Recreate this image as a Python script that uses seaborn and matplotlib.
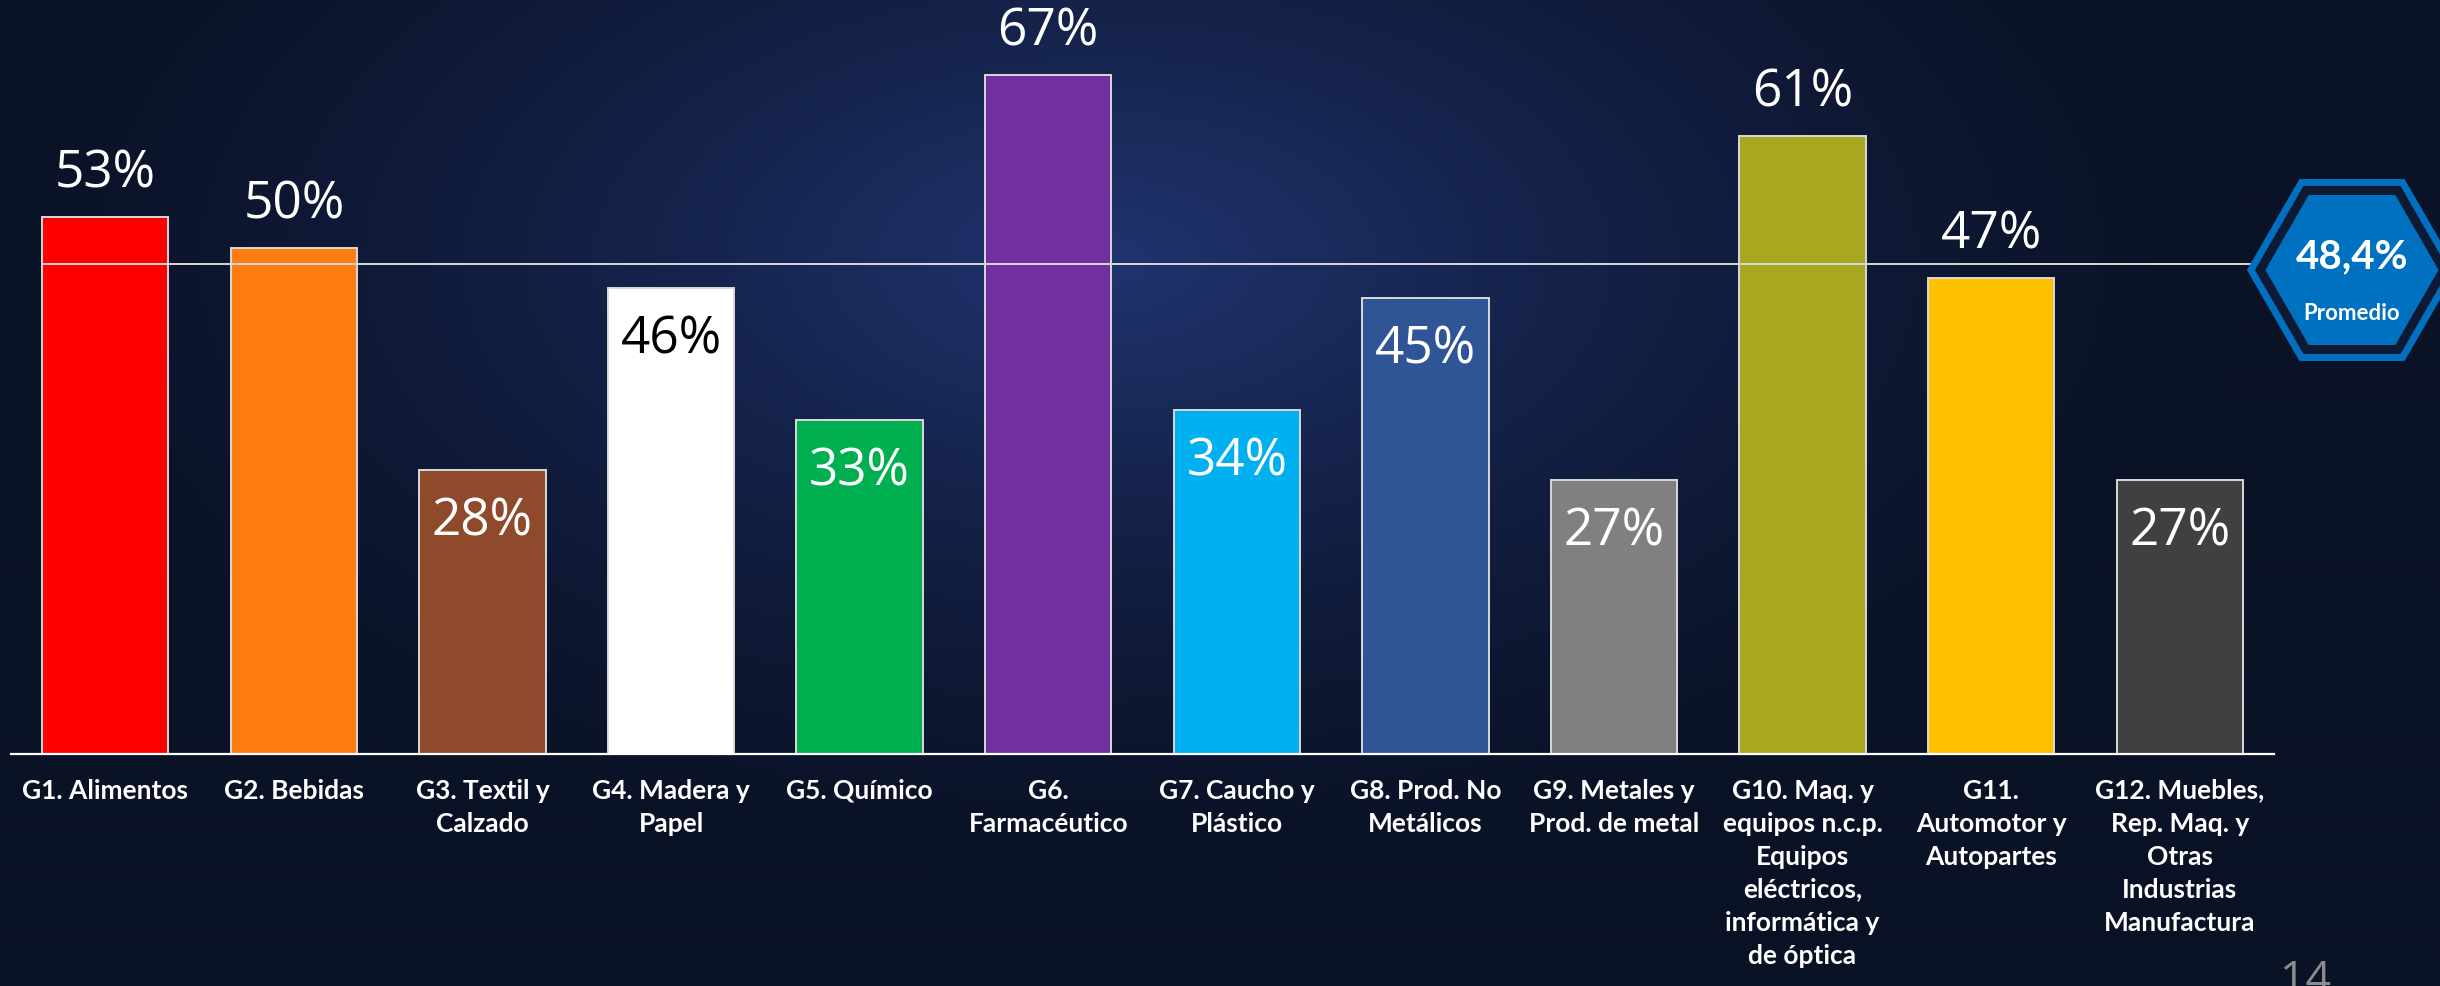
import numpy as np
import matplotlib
matplotlib.use("Agg")
import matplotlib.pyplot as plt
from matplotlib.patches import Polygon
import seaborn as sns
import pandas as pd

# ---------------- data ----------------
categories = [
    "G1. Alimentos",
    "G2. Bebidas",
    "G3. Textil y\nCalzado",
    "G4. Madera y\nPapel",
    "G5. Químico",
    "G6.\nFarmacéutico",
    "G7. Caucho y\nPlástico",
    "G8. Prod. No\nMetálicos",
    "G9. Metales y\nProd. de metal",
    "G10. Maq. y\nequipos n.c.p.\nEquipos\neléctricos,\ninformática y\nde óptica",
    "G11.\nAutomotor y\nAutopartes",
    "G12. Muebles,\nRep. Maq. y\nOtras\nIndustrias\nManufactura",
]
values = [0.53, 0.50, 0.28, 0.46, 0.33, 0.67, 0.34, 0.45, 0.27, 0.61, 0.47, 0.27]
value_labels = ["53%", "50%", "28%", "46%", "33%", "67%", "34%", "45%", "27%", "61%", "47%", "27%"]
promedio = 0.484
promedio_label = "48,4%"
promedio_title = "Promedio"
page_number = "14"

# ---------------- styles ----------------
bar_colors = ["#FF0000", "#FF7C10", "#8F4A2B", "#FFFFFF", "#00B050", "#7030A0",
              "#00B0F0", "#2F5597", "#808080", "#A8A820", "#FFC000", "#404040"]
label_inside = [False, False, True, True, True, False, True, True, True, False, False, True]
label_colors = ["white", "white", "white", "black", "white", "white",
                "white", "white", "white", "white", "white", "white"]

sns.set_theme(style="white")
plt.rcParams["font.family"] = ["Lato", "DejaVu Sans"]

W, H = 2440, 987
fig = plt.figure(figsize=(W / 100, H / 100), dpi=100)

# background gradient
bg = fig.add_axes([0, 0, 1, 1], zorder=0)
gy, gx = np.mgrid[0:H:4, 0:W:4]
d = np.sqrt(((gx - 1100) / 1150.0) ** 2 + ((gy - 260) / 620.0) ** 2)
t = np.clip(1 - d, 0, 1) ** 1.4
dark = np.array([10, 18, 38]) / 255.0
light = np.array([32, 52, 112]) / 255.0
img = dark[None, None, :] + (light - dark)[None, None, :] * t[..., None]
bg.imshow(img, extent=[0, W, H, 0], aspect="auto", interpolation="bilinear")
bg.set_xlim(0, W)
bg.set_ylim(H, 0)
bg.axis("off")

# main axes
ax_left, ax_right = 11, 2274
base_y = 755
px_per_unit = 1013.0
ymax = 0.70
ax = fig.add_axes([ax_left / W, (H - base_y) / H, (ax_right - ax_left) / W,
                   ymax * px_per_unit / H], zorder=1)
ax.patch.set_alpha(0)

df = pd.DataFrame({"cat": categories, "val": values})
sns.barplot(data=df, x="cat", y="val", hue="cat", palette=bar_colors,
            width=0.67, edgecolor="#D9D9D9", linewidth=1.4, legend=False,
            saturation=1, ax=ax)
ax.set_xlim(-0.5, len(categories) - 0.5)
ax.set_ylim(0, ymax)

# average line (from first bar's left edge to the badge), drawn over the bars
x0 = (42 - ax_left) / (ax_right - ax_left)
ax.axhline(promedio, xmin=x0, xmax=1.0, color="#D9D9D9", lw=1.4, zorder=3, clip_on=False)
ax.plot([len(categories) - 0.5, len(categories) - 0.5 + 0.1], [promedio, promedio],
        color="#D9D9D9", lw=1.4, clip_on=False, zorder=3)

# value labels
above_off = 44 / px_per_unit
inside_off = 51 / px_per_unit
for i, (v, lab) in enumerate(zip(values, value_labels)):
    y = v - inside_off if label_inside[i] else v + above_off
    ax.text(i, y, lab, ha="center", va="center", fontsize=37, zorder=4,
            family=["Open Sans", "DejaVu Sans"], color=label_colors[i], clip_on=False)

# axis styling
for s in ["top", "left", "right"]:
    ax.spines[s].set_visible(False)
ax.spines["bottom"].set_color("white")
ax.spines["bottom"].set_linewidth(1.6)
ax.set_yticks([])
ax.set_ylabel("")
ax.set_xlabel("")
ax.set_xticks(range(len(categories)))
ax.set_xticklabels(categories, fontsize=19, fontweight="bold", color="white",
                   linespacing=1.45, ha="center", va="top")
ax.set_xticks(np.arange(-0.5, len(categories), 1), minor=True)
ax.tick_params(axis="x", which="major", length=0, pad=17)
ax.tick_params(axis="x", which="minor", length=8, width=1.5, color="white", direction="out")

# overlay for badge & page number
ov = fig.add_axes([0, 0, 1, 1], zorder=2)
ov.set_xlim(0, W)
ov.set_ylim(H, 0)
ov.axis("off")
ov.patch.set_alpha(0)


def hexpts(cx, cy, h):
    w = h * 2 / np.sqrt(3)
    return [(cx - w, cy), (cx - w / 2, cy - h), (cx + w / 2, cy - h),
            (cx + w, cy), (cx + w / 2, cy + h), (cx - w / 2, cy + h)]


cx, cy = 2352, 271
ov.add_patch(Polygon(hexpts(cx, cy, 91), closed=True, fc="#0070C0", ec="none"))
ov.add_patch(Polygon(hexpts(cx, cy, 84), closed=True, fc="#0E1A33", ec="none"))
ov.add_patch(Polygon(hexpts(cx, cy, 75), closed=True, fc="#0070C0", ec="none"))
ov.text(cx, 257, promedio_label, ha="center", va="center", fontsize=29,
        fontweight="bold", color="white")
ov.text(cx, 314, promedio_title, ha="center", va="center", fontsize=16,
        fontweight="bold", color="white")
ov.text(2306, 958, page_number, ha="center", va="top", fontsize=32,
        color="#8C8C8C", family=["Open Sans", "DejaVu Sans"])

fig.savefig("out.png", dpi=100)
